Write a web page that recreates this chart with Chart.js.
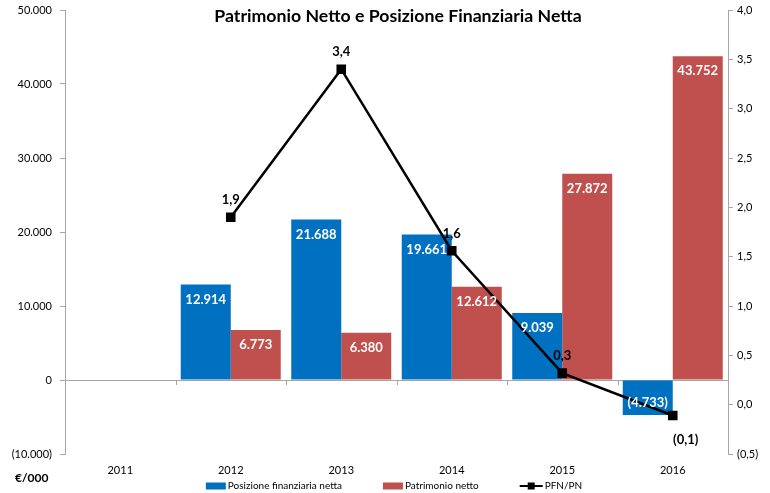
<!DOCTYPE html>
<html lang="it">
<head>
<meta charset="UTF-8" />
<title>Patrimonio Netto e Posizione Finanziaria Netta</title>
<script src="https://cdn.jsdelivr.net/npm/chart.js"></script>
<style>
  html, body { margin: 0; padding: 0; background: #fff; }
</style>
</head>
<body>
<canvas id="chart" width="770" height="493"></canvas>
<script>
  // data (€/000)
  const years = ['2011', '2012', '2013', '2014', '2015', '2016'];
  const pfn = [null, 12914, 21688, 19661, 9039, -4733];     // Posizione finanziaria netta
  const pn = [null, 6773, 6380, 12612, 27872, 43752];       // Patrimonio netto
  const pfnPn = [null, 1.9, 3.4, 1.56, 0.32, -0.11];        // PFN/PN
  const leftRange = [-10000, 50000, 10000];
  const rightRange = [-0.5, 4.0, 0.5];

  const FONT = 'Lato, "Open Sans", sans-serif';
  const AXIS = '#a6a6a6';
  const BLUE = '#0070C0';
  const RED = '#C0504D';

  function fmtThousands(v) {
    const s = String(Math.abs(Math.round(v))).replace(/\B(?=(\d{3})+(?!\d))/g, '.');
    return v < 0 ? '(' + s + ')' : s;
  }
  function fmtRatio(v) {
    const s = Math.abs(v).toFixed(1).replace('.', ',');
    return v < 0 ? '(' + s + ')' : s;
  }

  // no extra padding around the axes, so the plot area is where the original has it
  function noPad(scale) {
    scale.paddingTop = 0;
    scale.paddingBottom = 0;
    scale.paddingLeft = 0;
    scale.paddingRight = 0;
  }

  const labels = {
    id: 'labels',
    afterDatasetsDraw(chart) {
      const ctx = chart.ctx;
      ctx.save();
      ctx.font = 'bold 13px ' + FONT;
      ctx.textAlign = 'center';
      ctx.textBaseline = 'middle';

      // line labels
      ctx.fillStyle = '#000';
      chart.getDatasetMeta(2).data.forEach((pt, i) => {
        const v = pfnPn[i];
        if (v == null) return;
        if (v >= 0) ctx.fillText(fmtRatio(v), pt.x, pt.y - 17);
        else ctx.fillText(fmtRatio(v), pt.x + 13, pt.y + 24);
      });

      // values inside bars, on top of the line
      ctx.fillStyle = '#fff';
      [0, 1].forEach(di => {
        const ds = chart.data.datasets[di];
        chart.getDatasetMeta(di).data.forEach((bar, i) => {
          const v = ds.data[i];
          if (v == null) return;
          const y = v >= 0 ? bar.y + 15 : bar.y - 12;
          ctx.fillText(fmtThousands(v), bar.x, y);
        });
      });
      ctx.restore();
    }
  };

  const extras = {
    id: 'extras',
    afterDraw(chart) {
      const ctx = chart.ctx;
      const x = chart.scales.x;
      const y = chart.scales.y;
      ctx.save();

      // tick marks on the zero line at category boundaries
      const y0 = y.getPixelForValue(0);
      ctx.strokeStyle = AXIS;
      ctx.lineWidth = 1;
      for (let i = 1; i < years.length; i++) {
        const bx = Math.round((x.getPixelForValue(i - 1) + x.getPixelForValue(i)) / 2) + 0.5;
        ctx.beginPath();
        ctx.moveTo(bx, y0);
        ctx.lineTo(bx, y0 + 5);
        ctx.stroke();
      }

      ctx.fillStyle = '#000';
      ctx.textBaseline = 'middle';

      // title
      ctx.font = 'bold 17.7px ' + FONT;
      ctx.textAlign = 'center';
      ctx.fillText('Patrimonio Netto e Posizione Finanziaria Netta', 398, 16);

      // unit
      ctx.font = 'bold 12px ' + FONT;
      ctx.textAlign = 'left';
      ctx.fillText('€/000', 15, 478);

      // legend
      ctx.font = '10px ' + FONT;
      const items = chart.data.datasets.map(d => ({
        text: d.label,
        type: d.type,
        color: d.type === 'line' ? d.borderColor : d.backgroundColor,
        sym: d.type === 'line' ? 23 : 20
      }));
      let total = 0;
      items.forEach(it => { it.w = it.sym + 2 + ctx.measureText(it.text).width; total += it.w; });
      total += 41 * (items.length - 1);
      let lx = 394 - total / 2;
      const ly = 486;
      items.forEach(it => {
        if (it.type === 'line') {
          ctx.strokeStyle = it.color;
          ctx.lineWidth = 2;
          ctx.beginPath();
          ctx.moveTo(lx, ly);
          ctx.lineTo(lx + it.sym, ly);
          ctx.stroke();
          ctx.fillStyle = it.color;
          ctx.fillRect(lx + it.sym / 2 - 3.5, ly - 3.5, 7, 7);
        } else {
          ctx.fillStyle = it.color;
          ctx.fillRect(lx, ly - 3.5, it.sym, 7);
        }
        ctx.fillStyle = '#000';
        ctx.fillText(it.text, lx + it.sym + 2, ly);
        lx += it.w + 41;
      });

      ctx.restore();
    }
  };

  new Chart(document.getElementById('chart'), {
    data: {
      labels: years,
      datasets: [
        {
          type: 'bar',
          label: 'Posizione finanziaria netta',
          data: pfn,
          backgroundColor: BLUE,
          yAxisID: 'y',
          order: 1,
          barPercentage: 1,
          categoryPercentage: 0.905
        },
        {
          type: 'bar',
          label: 'Patrimonio netto',
          data: pn,
          backgroundColor: RED,
          yAxisID: 'y',
          order: 1,
          barPercentage: 1,
          categoryPercentage: 0.905
        },
        {
          type: 'line',
          label: 'PFN/PN',
          data: pfnPn,
          borderColor: '#000',
          backgroundColor: '#000',
          borderWidth: 2.5,
          pointStyle: 'rect',
          pointRadius: 5,
          pointHoverRadius: 5,
          tension: 0,
          yAxisID: 'y1',
          order: 0
        }
      ]
    },
    options: {
      responsive: false,
      animation: false,
      devicePixelRatio: 1,
      layout: { padding: { top: 10, left: 0, right: 0, bottom: 0 } },
      plugins: {
        legend: { display: false },
        title: { display: false },
        tooltip: { enabled: false }
      },
      scales: {
        x: {
          type: 'category',
          offset: true,
          grid: { display: false, drawTicks: false },
          border: { display: false },
          ticks: { color: '#000', font: { family: FONT, size: 11 }, padding: 10 },
          afterFit(scale) { scale.height = 39; noPad(scale); }
        },
        y: {
          position: 'left',
          min: leftRange[0],
          max: leftRange[1],
          ticks: {
            stepSize: leftRange[2],
            color: '#000',
            font: { family: FONT, size: 11 },
            padding: 8,
            callback: v => fmtThousands(v)
          },
          grid: {
            color: c => (c.tick && c.tick.value === 0 ? AXIS : 'rgba(0,0,0,0)'),
            tickColor: AXIS,
            tickLength: 5
          },
          border: { display: true, color: AXIS },
          afterFit(scale) { scale.width = 65; noPad(scale); }
        },
        y1: {
          position: 'right',
          min: rightRange[0],
          max: rightRange[1],
          ticks: {
            stepSize: rightRange[2],
            color: '#000',
            font: { family: FONT, size: 11 },
            padding: 4,
            callback: v => fmtRatio(v)
          },
          grid: { drawOnChartArea: false, tickColor: AXIS, tickLength: 5 },
          border: { display: true, color: AXIS },
          afterFit(scale) { scale.width = 42; noPad(scale); }
        }
      }
    },
    plugins: [labels, extras]
  });
</script>
</body>
</html>
